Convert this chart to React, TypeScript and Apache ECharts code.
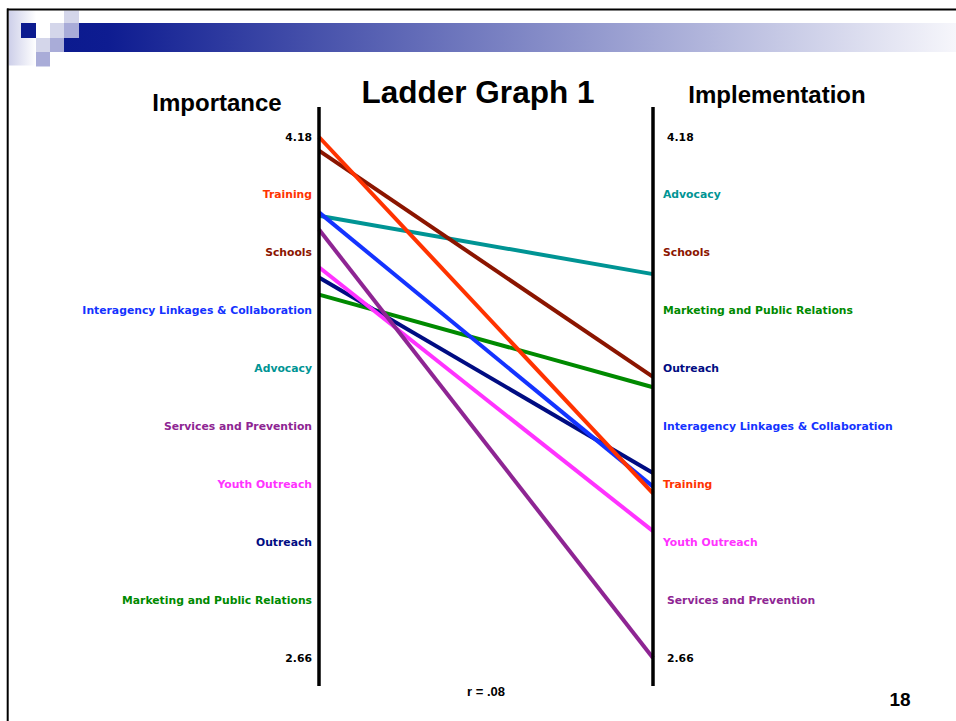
import React, { useEffect, useRef } from "react";
import * as echarts from "echarts";

// Program areas and their ratings on the two scales
const programs = [
  "Marketing and Public Relations",
  "Outreach",
  "Youth Outreach",
  "Services and Prevention",
  "Advocacy",
  "Interagency Linkages & Collaboration",
  "Schools",
  "Training",
];
const importanceValues = [3.72, 3.77, 3.8, 3.91, 3.95, 3.96, 4.14, 4.18];
const implementationValues = [3.45, 3.2, 3.03, 2.66, 3.78, 3.16, 3.48, 3.14];
const programColors = [
  "#008a00",
  "#000c82",
  "#ff33ff",
  "#8e2593",
  "#009494",
  "#1433ff",
  "#8b1500",
  "#ff3300",
];

// Ladder rungs, top to bottom
const importanceLabels = [
  "4.18",
  "Training",
  "Schools",
  "Interagency Linkages & Collaboration",
  "Advocacy",
  "Services and Prevention",
  "Youth Outreach",
  "Outreach",
  "Marketing and Public Relations",
  "2.66",
];
const implementationLabels = [
  "4.18",
  "Advocacy",
  "Schools",
  "Marketing and Public Relations",
  "Outreach",
  "Interagency Linkages & Collaboration",
  "Training",
  "Youth Outreach",
  "Services and Prevention",
  "2.66",
];
const scaleMax = 4.18;
const scaleMin = 2.66;
const sides = ["Importance", "Implementation"];

const labelFont = "'DejaVu Sans', Verdana, sans-serif";
const headFont = "'Liberation Sans', Arial, sans-serif";

function colorOf(name: string): string {
  const i = programs.indexOf(name);
  return i >= 0 ? programColors[i] : "#000000";
}

function richFor(labels: string[], padLeft: string[]) {
  const rich: Record<string, any> = {};
  labels.forEach((name, i) => {
    rich["r" + i] = {
      color: colorOf(name),
      fontFamily: labelFont,
      fontSize: 10.8,
      fontWeight: "bold",
      padding: padLeft.includes(name) ? [0, 0, 0, 4] : 0,
    };
  });
  return rich;
}

function rungFormatter(labels: string[]) {
  return (v: number) => {
    const idx = Math.round(labels.length - 1 - v);
    return labels[idx] !== undefined ? `{r${idx}|${labels[idx]}}` : "";
  };
}

export default function App() {
  const ref = useRef<HTMLDivElement>(null);

  useEffect(() => {
    document.body.style.margin = "0";
    const chart = echarts.init(ref.current!, null, { renderer: "svg" });

    const gridLeft = 319;
    const gridRight = 653;
    const gridTop = 137;
    const gridBottom = 658;

    const light = "#d4d6ea";
    const medium = "#a9acd8";
    const navy = "#0b1a8f";

    chart.setOption({
      animation: false,
      backgroundColor: "#ffffff",
      grid: {
        left: gridLeft,
        top: gridTop,
        width: gridRight - gridLeft,
        height: gridBottom - gridTop,
      },
      xAxis: {
        type: "category",
        data: sides,
        boundaryGap: false,
        show: false,
      },
      yAxis: [
        { type: "value", min: scaleMin, max: scaleMax, show: false },
        {
          type: "value",
          position: "left",
          min: 0,
          max: importanceLabels.length - 1,
          interval: 1,
          axisLine: { show: false },
          axisTick: { show: false },
          splitLine: { show: false },
          axisLabel: {
            margin: 7,
            formatter: rungFormatter(importanceLabels),
            rich: richFor(importanceLabels, []),
          },
        },
        {
          type: "value",
          position: "right",
          min: 0,
          max: implementationLabels.length - 1,
          interval: 1,
          axisLine: { show: false },
          axisTick: { show: false },
          splitLine: { show: false },
          axisLabel: {
            margin: 10,
            formatter: rungFormatter(implementationLabels),
            rich: richFor(implementationLabels, ["4.18", "2.66", "Services and Prevention"]),
          },
        },
      ],
      series: programs.map((name, i) => ({
        name,
        type: "line",
        yAxisIndex: 0,
        symbol: "none",
        silent: true,
        lineStyle: { color: programColors[i], width: 4 },
        data: [importanceValues[i], implementationValues[i]],
      })),
      graphic: [
        // slide frame
        { type: "line", z: 20, shape: { x1: 7, y1: 9.5, x2: 956, y2: 9.5 }, style: { stroke: "#000", lineWidth: 2 } },
        { type: "line", z: 20, shape: { x1: 7.7, y1: 8.5, x2: 7.7, y2: 721 }, style: { stroke: "#000", lineWidth: 2 } },
        // header band
        {
          type: "rect",
          shape: { x: 8.7, y: 10.5, width: 27.5, height: 55 },
          style: {
            fill: new echarts.graphic.LinearGradient(0, 0, 1, 0, [
              { offset: 0, color: "#cdcfe9" },
              { offset: 1, color: "#ffffff" },
            ]),
          },
        },
        {
          type: "rect",
          shape: { x: 64, y: 23, width: 892, height: 29 },
          style: {
            fill: new echarts.graphic.LinearGradient(0, 0, 1, 0, [
              { offset: 0, color: navy },
              { offset: 0.05, color: "#0e1c91" },
              { offset: 1, color: "#f6f6fb" },
            ]),
          },
        },
        { type: "rect", shape: { x: 64, y: 10.5, width: 15, height: 12.5 }, style: { fill: light } },
        { type: "rect", shape: { x: 21, y: 23, width: 15, height: 15 }, style: { fill: navy } },
        { type: "rect", shape: { x: 36, y: 23, width: 14, height: 15 }, style: { fill: "#ffffff" } },
        { type: "rect", shape: { x: 50, y: 23, width: 14, height: 15 }, style: { fill: light } },
        { type: "rect", shape: { x: 64, y: 23, width: 15, height: 15 }, style: { fill: medium } },
        { type: "rect", shape: { x: 36, y: 38, width: 14, height: 14 }, style: { fill: light } },
        { type: "rect", shape: { x: 50, y: 38, width: 14, height: 14 }, style: { fill: medium } },
        { type: "rect", shape: { x: 36, y: 52, width: 14, height: 14.5 }, style: { fill: medium } },
        // ladder rails
        { type: "line", z: 20, shape: { x1: gridLeft, y1: 107, x2: gridLeft, y2: 686 }, style: { stroke: "#000", lineWidth: 3.5 } },
        { type: "line", z: 20, shape: { x1: gridRight, y1: 107, x2: gridRight, y2: 686 }, style: { stroke: "#000", lineWidth: 3.5 } },
        // headings
        {
          type: "text",
          x: 478,
          y: 92,
          style: { text: "Ladder Graph 1", font: `bold 31.5px ${headFont}`, fill: "#000", align: "center", verticalAlign: "middle" },
        },
        {
          type: "text",
          x: 217,
          y: 102,
          style: { text: sides[0], font: `bold 24px ${headFont}`, fill: "#000", align: "center", verticalAlign: "middle" },
        },
        {
          type: "text",
          x: 777,
          y: 94,
          style: { text: sides[1], font: `bold 24px ${headFont}`, fill: "#000", align: "center", verticalAlign: "middle" },
        },
        {
          type: "text",
          x: 486,
          y: 691,
          style: { text: "r = .08", font: `bold 13px ${headFont}`, fill: "#000", align: "center", verticalAlign: "middle" },
        },
        {
          type: "text",
          x: 900,
          y: 699,
          style: { text: "18", font: `bold 19px ${headFont}`, fill: "#000", align: "center", verticalAlign: "middle" },
        },
      ],
    });

    return () => chart.dispose();
  }, []);

  return <div ref={ref} style={{ width: 956, height: 721 }} />;
}
